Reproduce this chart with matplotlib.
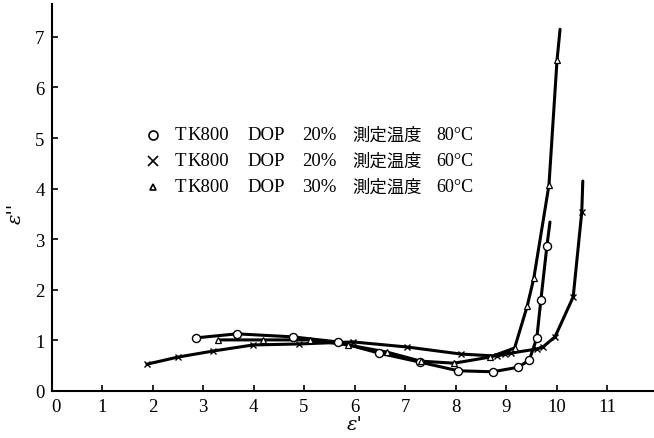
import matplotlib.pyplot as plt

# TK800 DOP 20%, 80 C (open circles)
circ_x = [2.86, 3.67, 4.78, 5.67, 6.48, 7.30, 8.05, 8.74, 9.24, 9.46, 9.61, 9.69, 9.81]
circ_y = [1.05, 1.13, 1.07, 0.97, 0.75, 0.57, 0.40, 0.38, 0.47, 0.61, 1.05, 1.80, 2.87]
circ_end = (9.87, 3.34)

# TK800 DOP 20%, 60 C (crosses)
cross_x = [1.89, 2.50, 3.20, 3.99, 4.90, 5.97, 7.04, 8.11, 8.82, 8.98, 9.10, 9.61, 9.73, 9.97, 10.33, 10.50]
cross_y = [0.53, 0.67, 0.79, 0.91, 0.93, 0.97, 0.87, 0.73, 0.69, 0.73, 0.75, 0.83, 0.87, 1.07, 1.86, 3.54]
cross_end = (10.52, 4.15)

# TK800 DOP 30%, 60 C (triangles)
tri_x = [3.30, 4.19, 5.12, 5.87, 6.64, 7.31, 7.97, 8.68, 9.17, 9.42, 9.55, 9.85, 10.01]
tri_y = [1.01, 1.01, 1.01, 0.91, 0.77, 0.59, 0.55, 0.67, 0.85, 1.68, 2.23, 4.07, 6.54]
tri_end = (10.07, 7.15)

legend_rows = [
    ('o', 'DOP', '20%', '80°C'),
    ('x', 'DOP', '20%', '60°C'),
    ('^', 'DOP', '30%', '60°C'),
]

W, H = 654, 439
fig = plt.figure(figsize=(W / 100, H / 100), dpi=100)
ax = fig.add_axes([51.5 / W, 1 - 392 / H, (W - 51.5) / W, (392 - 5) / H])

serif = 'Liberation Serif'
cjk = 'Noto Sans CJK JP'

def curve(xs, ys, end, marker, ms, mew, fill):
    ax.plot(list(xs) + [end[0]], list(ys) + [end[1]], color='black', lw=2.2,
            solid_capstyle='round', solid_joinstyle='round', zorder=2)
    ax.plot(xs, ys, ls='none', marker=marker, ms=ms, mew=mew,
            mfc=fill, mec='black', zorder=3)

curve(circ_x, circ_y, circ_end, 'o', 5.8, 1.0, 'white')
curve(cross_x, cross_y, cross_end, 'x', 4.5, 1.0, 'none')
curve(tri_x, tri_y, tri_end, '^', 4.2, 0.9, 'white')

ax.set_xlim(0, 11.93)
ax.set_ylim(0, 7.65)
ax.set_xticks(range(0, 12))
ax.set_yticks(range(0, 8))
for s in ('top', 'right'):
    ax.spines[s].set_visible(False)
for s in ('left', 'bottom'):
    ax.spines[s].set_linewidth(1.5)
ax.tick_params(direction='in', length=4, width=1.2, labelsize=13.5, pad=5)
for lab in ax.get_xticklabels() + ax.get_yticklabels():
    lab.set_family(serif)
ax.get_xticklabels()[0].set_ha('left')

fig.text(16 / W, 1 - 213 / H, "ε''", rotation=90, ha='center', va='center',
         fontsize=14, family='DejaVu Serif', style='italic')
fig.text(355 / W, 1 - 425 / H, "ε'", ha='center', va='center',
         fontsize=14, family='DejaVu Serif', style='italic')

# legend block
row_y = [136, 162, 188]
for (mk, dop, pct, temp), yy in zip(legend_rows, row_y):
    fy = 1 - yy / H
    ms = {'o': 6.5, 'x': 6.5, '^': 5}[mk]
    fig.lines.append(plt.Line2D([153 / W], [fy], marker=mk, ms=ms, mew=1.2,
                                mfc='white' if mk != 'x' else 'none', mec='black',
                                transform=fig.transFigure))
    fig.text(175 / W, fy, 'T', ha='left', va='center', fontsize=13.5, family=serif)
    fig.text(187 / W, fy, 'K800', ha='left', va='center', fontsize=13.5, family=serif)
    fig.text(247 / W, fy, dop, ha='left', va='center', fontsize=13.5, family=serif)
    fig.text(302 / W, fy, pct, ha='left', va='center', fontsize=13.5, family=serif)
    fig.text(352 / W, fy, '測定温度', ha='left', va='center', fontsize=12.5, family=cjk)
    fig.text(436 / W, fy, temp, ha='left', va='center', fontsize=13, family=serif)

fig.savefig('out.png', dpi=100)
